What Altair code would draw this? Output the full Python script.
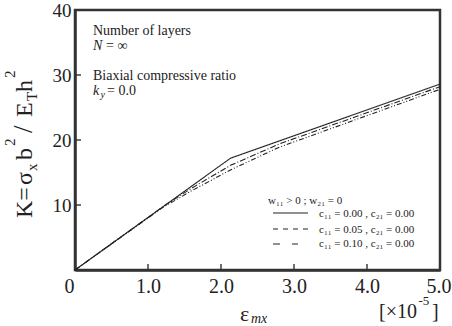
import altair as alt
import pandas as pd

# Buckling coefficient K versus strain (units of 1e-5) for three c11 values
strain_c000 = [0.0, 2.13, 5.0]
k_c000 = [0.0, 17.2, 28.6]
strain_c005 = [0.0, 1.2, 1.6, 2.13, 2.8, 5.0]
k_c005 = [0.0, 9.7, 12.6, 16.1, 19.4, 28.2]
strain_c010 = [0.0, 1.2, 1.6, 2.13, 2.8, 5.0]
k_c010 = [0.0, 9.6, 12.2, 15.4, 18.9, 27.8]

series_labels = [
    "c₁₁ = 0.00 , c₂₁ = 0.00",
    "c₁₁ = 0.05 , c₂₁ = 0.00",
    "c₁₁ = 0.10 , c₂₁ = 0.00",
]
legend_header = "w₁₁ > 0 ; w₂₁ = 0"

x_ticks = [0, 1, 2, 3, 4, 5]
y_ticks = [0, 10, 20, 30, 40]
x_inner_ticks = [1, 2, 3, 4]
y_inner_ticks = [10, 20, 30]

FONT = "'Liberation Serif', 'Times New Roman', 'DejaVu Serif', serif"
INK = "#222222"
FRAME = "#333333"
W, H = 365, 260

rows = []
for name, xs, ks in zip(series_labels,
                        [strain_c000, strain_c005, strain_c010],
                        [k_c000, k_c005, k_c010]):
    for xv, kv in zip(xs, ks):
        rows.append({"series": name, "strain": xv, "K": kv})
curves = pd.DataFrame(rows)

curve_dashes = [[1, 0], [6, 2, 1, 2], [5, 2, 1, 2, 1, 2]]

lines = alt.Chart(curves).mark_line(color=INK, strokeWidth=1.1).encode(
    x=alt.X("strain:Q", title=None,
            scale=alt.Scale(domain=[0, 5], nice=False),
            axis=alt.Axis(values=x_ticks, ticks=False, grid=False,
                          labelExpr="datum.value == 0 ? '0' : format(datum.value, '.1f')",
                          labelFont=FONT, labelFontSize=20, labelColor=INK,
                          labelPadding=6, labelFlush=True, labelFlushOffset=11)),
    y=alt.Y("K:Q", title=None,
            scale=alt.Scale(domain=[0, 40], nice=False),
            axis=alt.Axis(values=y_ticks, ticks=False, grid=False,
                          labelExpr="datum.value == 0 ? '' : datum.label",
                          labelFont=FONT, labelFontSize=19, labelColor=INK,
                          labelPadding=4, labelFlush=False)),
    strokeDash=alt.StrokeDash("series:N",
                              scale=alt.Scale(domain=series_labels, range=curve_dashes),
                              legend=None),
)

# inward-pointing tick marks
xt = alt.Chart(pd.DataFrame({"t": x_inner_ticks})).mark_rule(
    color=FRAME, strokeWidth=1.4).encode(
    x=alt.X("t:Q", title=None), y=alt.value(H), y2=alt.value(H - 6))
yt = alt.Chart(pd.DataFrame({"t": y_inner_ticks})).mark_rule(
    color=FRAME, strokeWidth=1.4).encode(
    y=alt.Y("t:Q", title=None), x=alt.value(0), x2=alt.value(6))


def piece(text, x, y, size, italic=False, angle=0):
    kw = dict(text=text, font=FONT, fontSize=size, color=INK,
              align="left", baseline="alphabetic")
    if italic:
        kw["fontStyle"] = "italic"
    if angle:
        kw["angle"] = angle
    return alt.Chart(alt.InlineData(values=[{}])).mark_text(**kw).encode(
        x=alt.value(x), y=alt.value(y))


def sample(x1, x2, y, dash=None):
    kw = dict(color=INK, strokeWidth=1.1)
    if dash:
        kw["strokeDash"] = dash
    return alt.Chart(alt.InlineData(values=[{}])).mark_rule(**kw).encode(
        x=alt.value(x1), x2=alt.value(x2), y=alt.value(y))


texts = [
    # annotations
    piece("Number of layers", 18, 25, 14),
    piece("N", 18, 40, 14, italic=True),
    piece("= ∞", 31, 40, 14),
    piece("Biaxial compressive ratio", 18, 70, 14),
    piece("k", 18, 85, 14, italic=True),
    piece("y", 25.5, 88, 10, italic=True),
    piece("= 0.0", 32, 85, 14),
    # legend
    piece(legend_header, 193, 194, 11),
    piece(series_labels[0], 244, 207, 11),
    piece(series_labels[1], 244, 223, 11),
    piece(series_labels[2], 244, 237, 11),
    sample(198, 233, 203),
    sample(198, 233, 219, [5, 5]),
    sample(198, 223, 234, [7, 12]),
    # x title
    piece("ε", 165, 311, 22),
    piece("mx", 176, 313, 14, italic=True),
    piece("[×10", 304, 308, 20),
    piece("-5", 343.5, 295, 13),
    piece("]", 357, 308, 20),
    # y title, rotated
    piece("K=", -43, 208, 24, angle=270),
    piece("σ", -43, 175, 24, angle=270),
    piece("x", -38, 161, 15, angle=270),
    piece("b", -43, 150, 24, angle=270),
    piece("2", -60, 136, 15, angle=270),
    piece("/", -43, 123, 27, angle=270),
    piece("E", -43, 107, 24, angle=270),
    piece("T", -38, 91, 15, angle=270),
    piece("h", -43, 82, 24, angle=270),
    piece("2", -60, 68, 15, angle=270),
]

chart = alt.layer(lines, xt, yt, *texts).resolve_scale(
    strokeDash="independent"
).properties(
    width=W, height=H,
    autosize=alt.AutoSizeParams(type="none"),
    padding={"left": 75, "top": 10, "right": 12, "bottom": 56},
).configure_view(
    stroke=FRAME, strokeWidth=2.5
).configure_axis(
    domainColor=FRAME, domainWidth=2.5
)

chart.save("out.html", embed_options={"renderer": "svg", "actions": False})
